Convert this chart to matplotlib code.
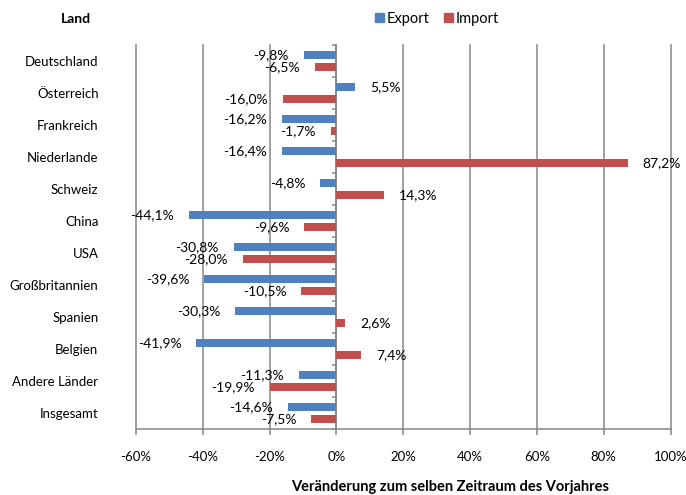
import matplotlib

matplotlib.use("Agg")
import matplotlib.pyplot as plt
import numpy as np
from matplotlib.patches import Patch

plt.rcParams["font.family"] = ["Lato", "DejaVu Sans"]

countries = [
    "Deutschland", "Österreich", "Frankreich", "Niederlande", "Schweiz", "China",
    "USA", "Großbritannien", "Spanien", "Belgien", "Andere Länder", "Insgesamt",
]
export_change = [-9.8, 5.5, -16.2, -16.4, -4.8, -44.1, -30.8, -39.6, -30.3, -41.9, -11.3, -14.6]
import_change = [-6.5, -16.0, -1.7, 87.2, 14.3, -9.6, -28.0, -10.5, 2.6, 7.4, -19.9, -7.5]
x_ticks = [-60, -40, -20, 0, 20, 40, 60, 80, 100]
x_tick_labels = ["-60%", "-40%", "-20%", "0%", "20%", "40%", "60%", "80%", "100%"]

BLUE = "#4F81BD"
RED = "#C0504D"
GRID = "#868686"
FS = 9.5


def pct(value):
    return f"{value:.1f}".replace(".", ",") + "%"


fig = plt.figure(figsize=(6.86, 4.95), dpi=100)
ax = fig.add_axes([136 / 686, 66 / 495, 534.6 / 686, 384 / 495])

y = np.arange(len(countries))
ax.barh(y - 0.19, export_change, height=0.25, color=BLUE, zorder=3)
ax.barh(y + 0.18, import_change, height=0.24, color=RED, zorder=3)

for series, offset in ((export_change, -0.19), (import_change, 0.18)):
    for yi, value in zip(y, series):
        shift = 15 if value >= 0 else -15
        ax.annotate(pct(value), (value, yi + offset), xytext=(shift, 0), textcoords="offset pixels",
                    ha="left" if value >= 0 else "right", va="center", fontsize=10, zorder=4)

ax.set_xlim(x_ticks[0], x_ticks[-1])
ax.set_ylim(len(countries) - 0.5, -0.5)
for x in x_ticks:
    ax.axvline(x, color=GRID, linewidth=1.1, zorder=1, clip_on=False)

ax.set_xticks(x_ticks, x_tick_labels)
ax.tick_params(axis="x", length=4, width=1.1, color=GRID, pad=12, labelsize=FS)
ax.set_yticks(y, countries)
ax.tick_params(axis="y", length=0, pad=27, labelsize=FS)
for side in ("top", "right", "left"):
    ax.spines[side].set_visible(False)
ax.spines["bottom"].set_color(GRID)
ax.spines["bottom"].set_linewidth(1.1)

# small ticks on the zero axis between the categories
zero_axis = ax.secondary_yaxis(0.375)
zero_axis.set_yticks(np.arange(len(countries) + 1) - 0.5, [])
zero_axis.tick_params(length=3, width=1.1, color=GRID)
zero_axis.spines["left"].set_color(GRID)
zero_axis.spines["left"].set_linewidth(1.1)

fig.text(75.6 / 686, 1 - 19 / 495, "Land", ha="center", va="center", fontsize=10, fontweight="bold")
fig.text(450 / 686, 1 - 487 / 495, "Veränderung zum selben Zeitraum des Vorjahres",
         ha="center", va="center", fontsize=10.5, fontweight="bold")
fig.legend(handles=[Patch(color=BLUE, label="Export"), Patch(color=RED, label="Import")],
           loc="center", bbox_to_anchor=(437 / 686, 1 - 19 / 495), ncol=2, frameon=False,
           fontsize=10.5, handlelength=0.6, handleheight=0.6, handletextpad=0.2, columnspacing=1.0)

fig.savefig("out.png", dpi=100)
